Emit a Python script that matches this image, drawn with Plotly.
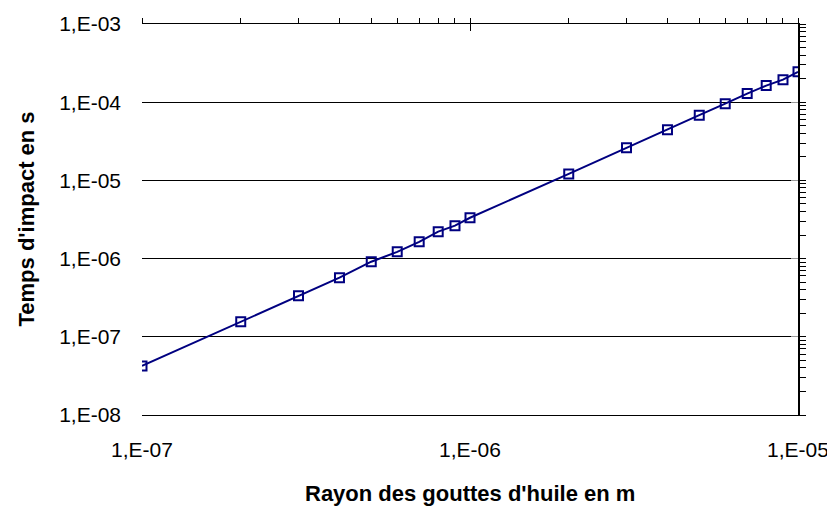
import plotly.graph_objects as go

# Data
rayon_m = [1e-7, 2e-7, 3e-7, 4e-7, 5e-7, 6e-7, 7e-7, 8e-7, 9e-7,
           1e-6, 2e-6, 3e-6, 4e-6, 5e-6, 6e-6, 7e-6, 8e-6, 9e-6, 1e-5]
temps_s = [4.24e-8, 1.56e-7, 3.36e-7, 5.70e-7, 9.12e-7, 1.22e-6, 1.64e-6, 2.21e-6, 2.64e-6,
           3.33e-6, 1.21e-5, 2.62e-5, 4.45e-5, 6.83e-5, 9.57e-5, 1.29e-4, 1.63e-4, 1.94e-4, 2.45e-4]

x_major = [1e-7, 1e-6, 1e-5]
x_major_text = ["1,E-07", "1,E-06", "1,E-05"]
y_major = [1e-8, 1e-7, 1e-6, 1e-5, 1e-4, 1e-3]
y_major_text = ["1,E-08", "1,E-07", "1,E-06", "1,E-05", "1,E-04", "1,E-03"]
x_all = [k * d for d in [1e-7, 1e-6] for k in range(1, 10)] + [1e-5]
y_all = [k * d for d in [1e-8, 1e-7, 1e-6, 1e-5, 1e-4] for k in range(1, 10)] + [1e-3]

FONT = "Liberation Sans, Arial, sans-serif"
NAVY = "#000080"

fig = go.Figure()
fig.add_trace(go.Scatter(
    x=rayon_m, y=temps_s, mode="lines+markers",
    line=dict(color=NAVY, width=2),
    marker=dict(symbol="square-open", size=9, color=NAVY, line=dict(color=NAVY, width=2)),
    showlegend=False, hoverinfo="x+y"))

# invisible helpers so the overlay axes get drawn
for xa, ya in [("x2", "y"), ("x3", "y"), ("x", "y2"), ("x", "y3")]:
    fig.add_trace(go.Scatter(x=[rayon_m[0]], y=[temps_s[0]], xaxis=xa, yaxis=ya,
                             mode="markers", opacity=0, showlegend=False, hoverinfo="skip"))

xr = [-7, -5]
yr = [-8, -3]

fig.update_layout(
    width=827, height=498,
    margin=dict(l=134, r=37, t=16, b=91, autoexpand=False),
    paper_bgcolor="white", plot_bgcolor="white",
    font=dict(family=FONT, color="black", size=21),
    xaxis=dict(type="log", range=xr, tickvals=x_major, ticktext=x_major_text,
               showgrid=False, zeroline=False, showline=True, linecolor="black",
               linewidth=1, ticks="", automargin=False,
               ticklabelstandoff=16, tickfont=dict(size=21, family=FONT)),
    xaxis2=dict(type="log", range=xr, overlaying="x", side="top", anchor="y",
                tickvals=x_all, ticks="outside", ticklen=5, tickcolor="black",
                showticklabels=False, showgrid=False, zeroline=False, automargin=False,
                showline=True, linecolor="black", linewidth=1),
    xaxis3=dict(type="log", range=xr, overlaying="x", side="top", anchor="y",
                tickvals=x_major, ticks="inside", ticklen=7, tickcolor="black", automargin=False,
                showticklabels=False, showgrid=False, zeroline=False, showline=False),
    yaxis=dict(type="log", range=yr, tickvals=y_major, ticktext=y_major_text,
               showgrid=True, gridcolor="black", gridwidth=1, zeroline=False,
               showline=False, ticks="", ticklabelstandoff=20, automargin=False,
               tickfont=dict(size=21, family=FONT)),
    yaxis2=dict(type="log", range=yr, overlaying="y", side="right", anchor="x",
                tickvals=y_all, ticks="outside", ticklen=6, tickcolor="black",
                showticklabels=False, showgrid=False, zeroline=False, automargin=False,
                showline=True, linecolor="black", linewidth=1.5),
    yaxis3=dict(type="log", range=yr, overlaying="y", side="right", anchor="x",
                tickvals=y_major, ticks="inside", ticklen=7, tickcolor="#999999", automargin=False,
                showticklabels=False, showgrid=False, zeroline=False, showline=False),
    annotations=[
        dict(text="<b>Rayon des gouttes d'huile en m</b>", xref="paper", yref="paper",
             x=0.5, y=0, xanchor="center", yanchor="middle", yshift=-78,
             showarrow=False, font=dict(size=22, family=FONT)),
        dict(text="<b>Temps d'impact en s</b>", xref="paper", yref="paper",
             x=0, y=0.5, xanchor="center", yanchor="middle", xshift=-116,
             textangle=-90, showarrow=False, font=dict(size=22, family=FONT)),
    ],
)

fig.write_html("out.html")
